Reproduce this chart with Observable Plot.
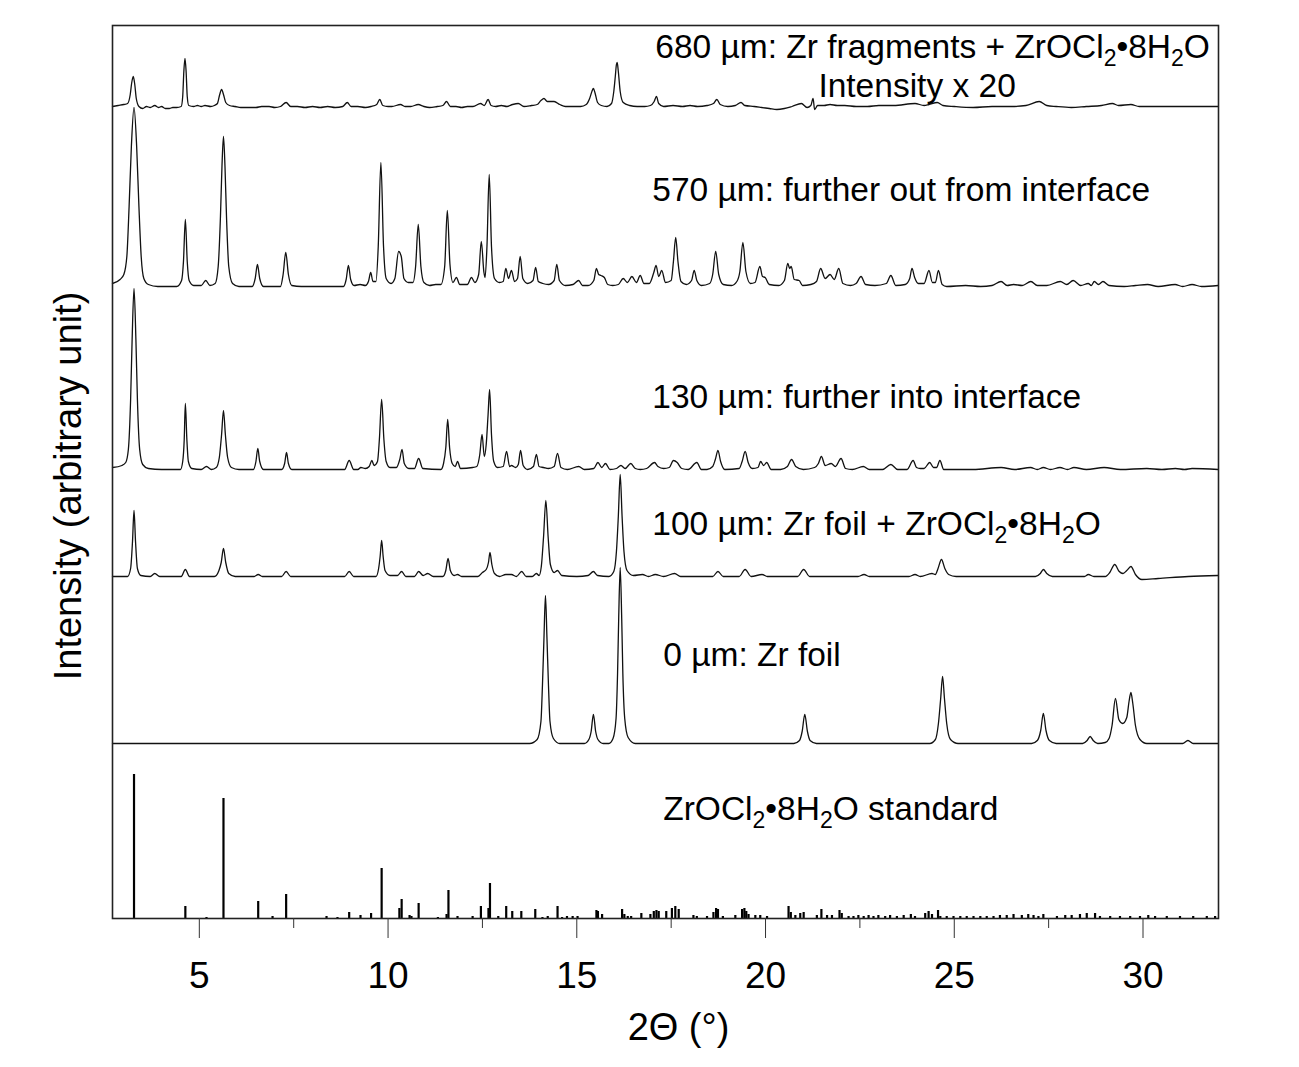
<!DOCTYPE html>
<html><head><meta charset="utf-8">
<script src="https://cdn.jsdelivr.net/npm/d3@7"></script>
<script src="https://cdn.jsdelivr.net/npm/@observablehq/plot@0.6"></script>
<style>body{margin:0;background:#fff}</style>
</head><body><div id="chart"></div>
<script>
// 2θ (deg) vs intensity (arbitrary unit); each trace listed as [2θ, intensity above its own baseline]
const trace680 = [[2.70,0],[2.85,1],[3.00,2],[3.10,3],[3.17,12],[3.21,24],[3.25,30],[3.29,22],[3.33,8],[3.40,0],[3.50,-2],[3.60,0],[3.70,-1],[3.82,1],[3.92,-1],[4.00,0],[4.10,-2],[4.20,-2],[4.30,-1],[4.40,-1],[4.52,0],[4.56,10],[4.59,35],[4.62,48],[4.65,35],[4.68,10],[4.72,1],[4.85,0],[4.95,1],[5.05,0],[5.15,1],[5.30,0],[5.40,1],[5.48,3],[5.54,12],[5.59,17],[5.64,12],[5.70,4],[5.80,1],[5.95,0],[6.10,-1],[6.30,-1],[6.50,-1],[6.65,0],[6.85,0],[7.00,-1],[7.15,0],[7.30,4],[7.42,0],[7.60,0],[7.80,-1],[8.00,0],[8.20,-1],[8.40,0],[8.60,-1],[8.80,0],[8.92,4],[9.02,0],[9.20,0],[9.40,-1],[9.55,0],[9.70,2],[9.78,7],[9.86,1],[10.00,0],[10.10,0],[10.33,2],[10.45,0],[10.60,0],[10.80,2],[10.95,0],[11.10,-1],[11.30,0],[11.45,1],[11.55,5],[11.65,0],[11.80,0],[11.95,-1],[12.10,0],[12.25,0],[12.45,3],[12.55,1],[12.65,7],[12.73,1],[12.85,0],[13.00,1],[13.15,0],[13.30,2],[13.45,3],[13.60,0],[13.80,1],[13.95,2],[14.05,6],[14.13,8],[14.22,5],[14.32,5],[14.40,5],[14.55,2],[14.70,0],[14.90,0],[15.10,0],[15.25,2],[15.34,8],[15.40,15],[15.44,18],[15.48,14],[15.55,4],[15.65,1],[15.80,0],[15.92,3],[15.98,15],[16.02,30],[16.05,42],[16.07,44],[16.10,35],[16.15,15],[16.23,4],[16.40,1],[16.60,0],[16.80,0],[16.95,1],[17.05,5],[17.11,10],[17.17,3],[17.30,0],[17.55,1],[17.80,0],[18.00,1],[18.20,0],[18.45,1],[18.62,3],[18.71,7],[18.80,2],[19.00,0],[19.20,1],[19.35,4],[19.45,1],[19.70,0],[19.90,-1],[20.10,-2],[20.30,-3],[20.50,-2],[20.70,0],[20.95,3],[21.10,-1],[21.20,1],[21.26,8],[21.30,-3],[21.38,1],[21.55,1],[21.71,2],[21.90,1],[22.10,1],[22.40,0],[22.70,0],[23.00,1],[23.40,1],[23.96,3],[24.20,1],[24.33,2],[24.55,4],[24.70,1],[25.00,0],[25.50,-1],[26.00,0],[26.50,0],[26.90,1],[27.25,5],[27.45,1],[27.70,0],[28.10,-1],[28.50,0],[28.90,1],[29.19,3],[29.35,1],[29.68,2],[29.90,0],[30.40,0],[30.90,0],[31.40,0],[31.99,0]];

const trace570 = [[2.70,3],[2.90,7],[3.00,12],[3.08,30],[3.14,80],[3.20,140],[3.27,179],[3.34,140],[3.40,80],[3.46,30],[3.53,8],[3.65,2],[3.90,0],[4.40,0],[4.53,6],[4.58,25],[4.63,67],[4.68,25],[4.73,6],[4.85,1],[5.05,1],[5.17,6],[5.28,1],[5.42,3],[5.50,20],[5.56,70],[5.60,120],[5.64,150],[5.68,120],[5.72,70],[5.78,20],[5.88,3],[6.05,0],[6.40,0],[6.48,8],[6.54,22],[6.60,8],[6.70,0],[7.15,0],[7.22,12],[7.29,34],[7.36,12],[7.45,1],[7.70,0],[8.82,0],[8.89,7],[8.95,21],[9.01,7],[9.10,1],[9.26,2],[9.40,1],[9.48,5],[9.54,14],[9.60,5],[9.68,5],[9.74,40],[9.81,124],[9.88,40],[9.95,8],[10.08,3],[10.18,8],[10.28,35],[10.35,30],[10.42,8],[10.54,4],[10.66,4],[10.73,20],[10.80,62],[10.87,20],[10.95,4],[11.10,1],[11.26,2],[11.40,2],[11.50,20],[11.57,76],[11.64,22],[11.72,4],[11.81,9],[11.90,2],[12.10,2],[12.21,9],[12.30,4],[12.40,12],[12.47,45],[12.54,14],[12.57,9],[12.62,40],[12.68,112],[12.74,40],[12.82,8],[12.95,4],[13.05,5],[13.12,18],[13.19,8],[13.27,16],[13.35,5],[13.43,8],[13.50,30],[13.57,8],[13.70,3],[13.84,6],[13.91,19],[13.98,5],[14.10,3],[14.25,2],[14.40,6],[14.47,22],[14.54,6],[14.70,1],[14.90,2],[15.05,6],[15.15,1],[15.30,1],[15.45,6],[15.52,18],[15.58,12],[15.64,11],[15.73,9],[15.82,2],[15.95,1],[16.10,2],[16.23,8],[16.34,4],[16.46,10],[16.58,4],[16.68,11],[16.78,3],[16.92,3],[17.04,14],[17.10,21],[17.17,10],[17.25,16],[17.35,4],[17.50,6],[17.56,25],[17.62,49],[17.68,25],[17.76,5],[17.90,2],[18.04,6],[18.11,16],[18.18,6],[18.30,1],[18.52,3],[18.60,12],[18.68,35],[18.76,12],[18.88,2],[19.10,1],[19.24,5],[19.32,15],[19.40,44],[19.48,15],[19.60,3],[19.72,4],[19.85,20],[19.92,10],[19.99,9],[20.10,2],[20.35,1],[20.50,6],[20.59,23],[20.64,18],[20.68,20],[20.76,7],[20.89,6],[20.98,1],[21.20,2],[21.35,5],[21.46,18],[21.58,8],[21.71,12],[21.82,7],[21.94,18],[22.05,3],[22.25,1],[22.40,3],[22.53,10],[22.65,2],[22.90,1],[23.20,3],[23.32,11],[23.45,1],[23.70,2],[23.82,8],[23.88,18],[23.95,9],[24.05,3],[24.20,3],[24.33,16],[24.42,4],[24.50,4],[24.58,16],[24.68,2],[24.80,0],[25.30,1],[25.70,0],[26.00,1],[26.24,5],[26.40,1],[26.57,2],[26.80,1],[27.03,5],[27.20,1],[27.45,1],[27.81,5],[27.98,2],[28.15,6],[28.35,1],[28.55,3],[28.63,1],[28.71,5],[28.82,2],[28.94,5],[29.10,1],[29.50,0],[29.80,1],[30.12,2],[30.40,0],[30.85,2],[31.05,0],[31.30,2],[31.55,0],[31.99,1]];

const trace130 = [[2.70,2],[2.95,4],[3.05,7],[3.12,20],[3.18,70],[3.22,130],[3.27,181],[3.32,130],[3.36,70],[3.42,20],[3.50,5],[3.65,1],[4.00,0],[4.50,0],[4.56,8],[4.60,30],[4.63,66],[4.67,30],[4.71,8],[4.80,1],[5.05,0],[5.19,3],[5.32,0],[5.45,2],[5.53,12],[5.59,35],[5.64,59],[5.69,35],[5.75,12],[5.85,2],[6.05,0],[6.43,0],[6.50,8],[6.55,21],[6.60,8],[6.70,0],[7.18,0],[7.26,6],[7.31,17],[7.36,6],[7.45,0],[8.85,0],[8.97,9],[9.09,0],[9.20,0],[9.28,2],[9.40,1],[9.50,3],[9.57,9],[9.63,4],[9.72,8],[9.77,30],[9.83,70],[9.89,30],[9.95,8],[10.05,2],[10.22,2],[10.31,10],[10.37,20],[10.43,6],[10.55,1],[10.70,1],[10.81,11],[10.92,1],[11.40,0],[11.47,6],[11.53,22],[11.58,50],[11.63,22],[11.70,6],[11.78,3],[11.84,8],[11.92,1],[12.24,2],[12.35,3],[12.43,15],[12.49,35],[12.55,13],[12.60,25],[12.65,55],[12.69,80],[12.74,35],[12.80,8],[12.90,2],[13.05,3],[13.14,18],[13.22,3],[13.27,4],[13.38,2],[13.45,5],[13.51,19],[13.58,4],[13.70,0],[13.85,3],[13.93,15],[14.00,3],[14.12,2],[14.25,1],[14.40,3],[14.49,16],[14.58,2],[14.75,0],[15.05,3],[15.20,0],[15.45,1],[15.56,7],[15.66,2],[15.76,6],[15.88,0],[16.05,1],[16.17,4],[16.28,1],[16.43,6],[16.55,1],[16.68,0],[16.85,1],[17.06,7],[17.15,3],[17.30,1],[17.45,2],[17.56,9],[17.66,7],[17.78,1],[17.95,0],[18.18,7],[18.30,0],[18.45,0],[18.60,3],[18.67,10],[18.74,19],[18.81,8],[18.92,0],[19.30,1],[19.38,8],[19.46,18],[19.54,7],[19.65,1],[19.80,2],[19.87,8],[19.95,4],[20.03,7],[20.15,0],[20.40,0],[20.58,3],[20.69,10],[20.80,3],[21.00,0],[21.30,2],[21.40,6],[21.48,13],[21.58,4],[21.74,6],[21.85,3],[22.00,11],[22.12,1],[22.30,0],[22.59,3],[22.75,0],[23.10,0],[23.32,5],[23.50,0],[23.75,0],[23.91,9],[24.00,2],[24.10,1],[24.20,1],[24.35,7],[24.45,2],[24.53,2],[24.62,9],[24.72,0],[25.50,0],[26.24,2],[26.60,0],[27.02,2],[27.20,0],[27.36,2],[27.55,0],[27.80,2],[28.00,0],[28.17,2],[28.50,0],[28.97,2],[29.40,0],[30.10,1],[30.50,0],[30.86,1],[31.10,0],[31.30,1],[31.99,0]];

const trace100 = [[2.70,0],[3.10,0],[3.18,8],[3.23,35],[3.27,66],[3.31,35],[3.36,8],[3.45,1],[3.70,0],[3.82,3],[3.95,0],[4.52,0],[4.63,7],[4.74,0],[5.40,0],[5.52,6],[5.58,14],[5.64,28],[5.70,14],[5.78,3],[5.95,0],[6.45,0],[6.56,2],[6.67,0],[7.18,0],[7.30,5],[7.42,0],[8.85,0],[8.97,5],[9.09,0],[9.68,0],[9.75,8],[9.79,20],[9.83,36],[9.87,20],[9.92,6],[10.05,1],[10.25,1],[10.36,5],[10.47,0],[10.70,0],[10.81,5],[10.93,1],[11.05,3],[11.20,0],[11.45,0],[11.53,6],[11.59,18],[11.65,6],[11.75,1],[11.84,2],[11.95,0],[12.38,0],[12.50,4],[12.60,7],[12.66,14],[12.70,24],[12.75,12],[12.82,3],[12.95,0],[13.12,2],[13.27,2],[13.40,0],[13.54,5],[13.66,0],[13.82,0],[13.93,3],[14.00,1],[14.06,10],[14.12,40],[14.18,76],[14.24,40],[14.30,12],[14.40,4],[14.49,6],[14.60,1],[15.00,0],[15.30,1],[15.44,5],[15.55,1],[15.85,0],[15.98,5],[16.05,25],[16.10,60],[16.15,102],[16.20,60],[16.25,25],[16.33,6],[16.50,1],[16.74,2],[16.90,0],[17.08,2],[17.30,0],[17.59,3],[17.75,0],[18.60,0],[18.74,5],[18.88,0],[19.30,0],[19.46,7],[19.62,0],[19.91,2],[20.05,0],[20.85,0],[21.01,7],[21.17,0],[22.45,0],[22.61,2],[22.75,0],[23.80,0],[23.96,2],[24.10,0],[24.41,3],[24.50,2],[24.57,8],[24.66,17],[24.75,8],[24.85,2],[25.05,0],[27.15,0],[27.28,3],[27.36,7],[27.45,3],[27.60,0],[28.45,0],[28.55,2],[28.70,0],[29.00,0],[29.12,4],[29.25,12],[29.37,5],[29.47,3],[29.57,6],[29.68,10],[29.80,2],[29.97,-3],[30.40,-2],[31.20,0],[31.99,1]];

const trace0 = [[2.70,0],[13.75,0],[13.95,4],[14.05,22],[14.09,58],[14.13,105],[14.17,148],[14.21,105],[14.25,58],[14.29,22],[14.38,5],[14.55,0],[15.20,0],[15.32,4],[15.38,12],[15.44,29],[15.50,12],[15.56,4],[15.70,0],[15.85,0],[15.96,5],[16.04,25],[16.08,70],[16.11,125],[16.15,176],[16.19,125],[16.22,70],[16.27,25],[16.36,6],[16.55,0],[20.75,0],[20.90,3],[20.97,12],[21.04,29],[21.11,12],[21.18,3],[21.35,0],[24.35,0],[24.50,4],[24.58,20],[24.64,45],[24.69,67],[24.74,45],[24.80,20],[24.90,4],[25.10,0],[27.05,0],[27.20,3],[27.29,13],[27.36,30],[27.43,13],[27.52,3],[27.70,0],[28.40,0],[28.52,3],[28.60,7],[28.68,3],[28.80,0],[29.00,1],[29.10,5],[29.18,18],[29.27,45],[29.36,24],[29.46,20],[29.57,26],[29.63,42],[29.68,51],[29.73,40],[29.80,18],[29.92,4],[30.10,0],[31.05,0],[31.19,3],[31.33,0],[31.99,0]];

// ZrOCl2·8H2O reference pattern: [2θ, relative intensity]
const standardSticks = [[3.27,144],[4.63,12],[5.19,1],[5.64,120],[6.56,17],[6.94,2],[7.30,24],[8.37,2],[8.66,1],[8.97,6],[9.27,3],[9.55,5],[9.83,50],[10.30,10],[10.36,19],[10.57,3],[10.62,2],[10.81,15],[11.32,1],[11.55,4],[11.60,28],[11.84,2],[12.24,2],[12.46,12],[12.66,10],[12.70,35],[12.92,2],[13.13,12],[13.29,7],[13.53,7],[13.90,9],[14.09,1],[14.23,2],[14.49,12],[14.61,1],[14.74,2],[14.89,2],[15.02,2],[15.52,8],[15.56,7],[15.67,4],[16.20,9],[16.26,4],[16.35,2],[16.44,2],[16.71,5],[16.95,4],[17.04,7],[17.11,8],[17.17,7],[17.37,7],[17.52,10],[17.61,12],[17.70,9],[18.09,3],[18.18,2],[18.45,2],[18.62,6],[18.69,10],[18.74,9],[18.87,2],[19.20,3],[19.38,9],[19.44,10],[19.49,7],[19.55,4],[19.73,3],[19.86,3],[20.04,2],[20.61,12],[20.67,6],[20.79,3],[20.92,5],[21.01,6],[21.36,3],[21.48,9],[21.63,3],[21.76,3],[21.96,8],[22.02,5],[22.20,2],[22.33,2],[22.46,3],[22.60,2],[22.73,3],[22.86,2],[22.99,3],[23.17,2],[23.30,3],[23.48,2],[23.66,3],[23.85,4],[23.96,2],[24.23,5],[24.32,7],[24.41,4],[24.57,8],[24.63,2],[24.80,2],[24.98,2],[25.16,2],[25.33,2],[25.51,2],[25.69,2],[25.86,2],[26.04,2],[26.21,3],[26.39,3],[26.57,4],[26.79,3],[26.96,4],[27.10,3],[27.23,2],[27.36,4],[27.72,2],[27.94,3],[28.11,3],[28.33,4],[28.51,5],[28.73,5],[28.86,2],[29.13,2],[29.39,2],[29.66,2],[29.92,2],[30.14,3],[30.32,2],[30.63,2],[30.98,2],[31.33,2],[31.69,2],[31.91,2]];

// vertical stacking offsets of the traces (same arbitrary unit)
const traceNames = ["680 µm", "570 µm", "130 µm", "100 µm", "0 µm"];
const traceOffsets = [812, 632, 449, 342, 175];
const traces = [trace680, trace570, trace130, trace100, trace0];

const majorTicks = [5, 10, 15, 20, 25, 30];
const minorTicks = [7.5, 12.5, 17.5, 22.5, 27.5];

const labelTexts = [
  "680 µm: Zr fragments + ZrOCl_2•8H_2O",
  "Intensity x 20",
  "570 µm: further out from interface",
  "130 µm: further into interface",
  "100 µm: Zr foil + ZrOCl_2•8H_2O",
  "0 µm: Zr foil",
  "ZrOCl_2•8H_2O standard"
];
const labelX = [17.08, 21.40, 17.00, 17.00, 17.00, 17.29, 17.29];
const labelY = [871.6, 832.6, 728.6, 521.6, 394.6, 263.6, 109.6];
const labels = labelTexts.map((t, i) => ({text: t, x: labelX[i], y: labelY[i]}));

const font = "'Liberation Sans', Arial, Helvetica, sans-serif";

const lineMarks = traces.map((tr, i) =>
  Plot.line(tr, {x: d => d[0], y: d => d[1] + traceOffsets[i], curve: "monotone-x", stroke: "#111", strokeWidth: 1.3})
);

const plot = Plot.plot({
  width: 1299,
  height: 1067,
  marginLeft: 112,
  marginRight: 81,
  marginTop: 25,
  marginBottom: 149,
  style: {fontFamily: font, background: "#fff", color: "#000"},
  x: {domain: [2.7, 32], axis: null},
  y: {domain: [0, 893], axis: null},
  marks: [
    Plot.ruleX(standardSticks, {x: d => d[0], y1: 0, y2: d => d[1], stroke: "#000", strokeWidth: 2.2}),
    ...lineMarks,
    Plot.frame({stroke: "#222", strokeWidth: 1.6}),
    Plot.axisX({ticks: majorTicks, tickSize: 20, tickPadding: 23, fontSize: 37, label: null, tickFormat: d => String(d), stroke: "#333"}),
    Plot.axisX({ticks: minorTicks, tickSize: 10, label: null, tickFormat: () => "", stroke: "#333"}),
    Plot.text(labels, {x: "x", y: "y", text: "text", textAnchor: "start", lineAnchor: "middle", fontSize: 33.5, fill: "#000"}),
    Plot.text(["2Θ (°)"], {frameAnchor: "bottom", textAnchor: "middle", lineAnchor: "middle", dx: 13, dy: 109, fontSize: 38, fill: "#000"}),
    Plot.text(["Intensity (arbitrary unit)"], {frameAnchor: "left", textAnchor: "middle", lineAnchor: "middle", rotate: -90, dx: -44, dy: 14, fontSize: 38, fill: "#000"})
  ]
});

// render chemical subscripts (_2) as lowered, smaller digits
const NS = "http://www.w3.org/2000/svg";
plot.querySelectorAll("text").forEach(t => {
  const s = t.textContent;
  if (!s.includes("_")) return;
  while (t.firstChild) t.removeChild(t.firstChild);
  const parts = s.split(/_(\d)/);
  parts.forEach((p, i) => {
    const ts = document.createElementNS(NS, "tspan");
    ts.textContent = p;
    if (i % 2 === 1) {
      ts.setAttribute("font-size", "23");
      ts.setAttribute("dy", "8");
    } else if (i > 0) {
      ts.setAttribute("dy", "-8");
    }
    t.appendChild(ts);
  });
});

document.getElementById("chart").appendChild(plot);
</script></body></html>
